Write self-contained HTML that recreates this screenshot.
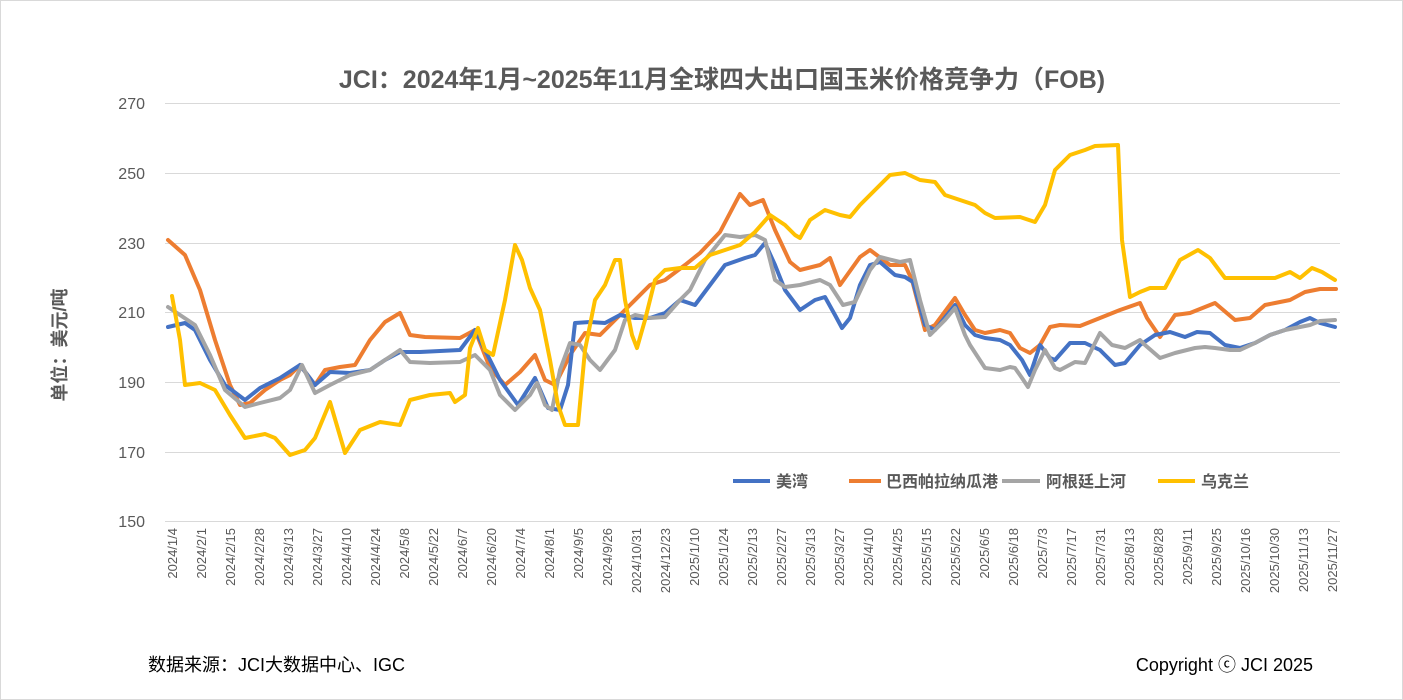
<!DOCTYPE html>
<html><head><meta charset="utf-8"><style>
body{margin:0;background:#fff}
svg{display:block}
text{font-family:"Liberation Sans","Noto Sans CJK SC",sans-serif}
</style></head><body>
<svg width="1403" height="700" viewBox="0 0 1403 700" xmlns="http://www.w3.org/2000/svg">
<rect x="0.5" y="0.5" width="1402" height="699" fill="#fff" stroke="#d9d9d9"/>
<text x="722" y="88" font-size="25" font-weight="bold" fill="#595959" text-anchor="middle">JCI：2024年1月~2025年11月全球四大出口国玉米价格竞争力（FOB)</text>
<g stroke="#d9d9d9" stroke-width="1">
<line x1="165" y1="103.5" x2="1340" y2="103.5"/>
<line x1="165" y1="173.5" x2="1340" y2="173.5"/>
<line x1="165" y1="243.5" x2="1340" y2="243.5"/>
<line x1="165" y1="312.5" x2="1340" y2="312.5"/>
<line x1="165" y1="382.5" x2="1340" y2="382.5"/>
<line x1="165" y1="452.5" x2="1340" y2="452.5"/>
<line x1="165" y1="521.5" x2="1340" y2="521.5"/>
</g>
<g font-size="16" fill="#595959" text-anchor="end">
<text x="145" y="109">270</text><text x="145" y="179">250</text><text x="145" y="249">230</text>
<text x="145" y="318">210</text><text x="145" y="388">190</text><text x="145" y="458">170</text><text x="145" y="527">150</text>
</g>
<text transform="translate(66,345) rotate(-90)" font-size="18" font-weight="bold" fill="#595959" text-anchor="middle">单位：美元/吨</text>
<g fill="none" stroke-width="4" stroke-linejoin="round" stroke-linecap="round">
<polyline stroke="#ed7d31" points="168,240 185,255 200,290 215,340 230,385 240,405 250,403 265,390 280,380 290,375 300,365 315,385 325,370 340,367 355,365 370,340 385,322 400,313 410,335 425,337 460,338 475,330 490,368 505,385 520,372 535,355 545,380 555,385 570,355 585,333 600,335 615,320 630,305 650,285 665,280 685,265 700,253 720,232 740,194 750,205 763,200 775,230 790,262 800,270 820,265 830,258 840,285 860,257 870,250 890,265 905,265 912,280 925,330 935,325 955,298 965,315 975,330 985,333 1000,330 1010,333 1020,348 1030,353 1040,345 1050,327 1060,325 1080,326 1100,318 1120,310 1140,303 1147,318 1160,337 1175,315 1190,313 1210,305 1215,303 1235,320 1250,318 1265,305 1275,303 1290,300 1305,292 1320,289 1336,289"/>
<polyline stroke="#4472c4" points="168,327 185,323 195,330 210,360 225,385 245,400 260,388 280,378 300,365 315,385 330,372 350,373 370,370 385,360 400,352 420,352 460,350 475,330 485,350 500,380 518,405 535,378 548,408 560,410 568,385 575,323 590,322 605,323 620,315 635,318 650,318 665,313 680,300 695,305 710,285 725,265 745,258 755,255 765,243 775,265 785,290 800,310 815,300 825,297 835,315 842,328 850,318 860,285 870,265 880,262 895,275 905,277 913,282 925,325 935,330 955,305 965,325 975,335 985,338 1000,340 1010,345 1022,360 1030,375 1040,345 1050,358 1055,360 1070,343 1085,343 1100,350 1115,365 1125,363 1140,345 1155,335 1170,332 1185,337 1197,332 1210,333 1225,345 1240,348 1255,343 1270,335 1285,330 1300,322 1310,318 1320,323 1335,327"/>
<polyline stroke="#a5a5a5" points="168,307 180,315 195,325 210,355 225,390 245,407 260,403 280,398 290,390 302,365 315,393 330,385 350,375 370,370 385,360 400,350 410,362 430,363 460,362 475,355 490,370 500,395 515,410 530,395 537,383 545,405 552,410 560,370 570,343 580,345 590,360 600,370 615,350 625,320 635,315 650,318 665,317 680,300 690,290 705,260 725,235 740,237 755,235 765,240 775,280 785,287 800,285 820,280 830,285 843,305 855,302 870,270 880,257 900,262 910,260 920,300 930,335 945,320 955,308 965,335 970,345 985,368 1000,370 1010,367 1015,368 1022,378 1028,387 1035,370 1045,350 1055,368 1060,370 1075,362 1085,363 1100,333 1112,345 1125,348 1140,340 1145,345 1160,358 1175,353 1195,348 1205,347 1215,348 1230,350 1240,350 1255,343 1270,335 1285,330 1300,327 1310,325 1320,321 1335,320"/>
<polyline stroke="#ffc000" points="172,296 180,340 185,385 200,383 215,390 230,415 245,438 265,434 275,438 290,455 305,450 315,438 330,402 345,453 360,430 380,422 400,425 410,400 430,395 450,393 455,402 465,395 470,348 478,328 485,350 493,355 505,300 515,245 522,260 530,288 540,310 550,360 558,405 565,425 578,425 585,350 595,300 605,285 615,260 620,260 625,300 632,335 637,348 645,320 655,280 665,270 680,268 695,268 710,255 725,250 740,245 755,232 770,215 785,225 795,235 800,238 810,220 825,210 840,215 850,217 860,205 875,190 890,175 905,173 920,180 935,182 945,195 960,200 975,205 985,213 995,218 1020,217 1035,222 1045,205 1055,170 1070,155 1085,150 1095,146 1118,145 1122,240 1130,297 1140,292 1150,288 1165,288 1180,260 1198,250 1210,258 1225,278 1240,278 1260,278 1275,278 1290,272 1300,278 1312,268 1322,272 1335,280"/>
</g>
<g stroke-width="4">
<line x1="733" y1="481" x2="770" y2="481" stroke="#4472c4"/>
<line x1="849" y1="481" x2="881" y2="481" stroke="#ed7d31"/>
<line x1="1002" y1="481" x2="1040" y2="481" stroke="#a5a5a5"/>
<line x1="1158" y1="481" x2="1195" y2="481" stroke="#ffc000"/>
</g>
<g font-size="16" font-weight="bold" fill="#595959">
<text x="776" y="487">美湾</text><text x="886" y="487">巴西帕拉纳瓜港</text>
<text x="1046" y="487">阿根廷上河</text><text x="1201" y="487">乌克兰</text>
</g>
<text x="148" y="671" font-size="18" fill="#000">数据来源：JCI大数据中心、IGC</text>
<text x="1313" y="671" font-size="18" fill="#000" text-anchor="end">Copyright ⓒ JCI 2025</text>
<g font-size="13" fill="#595959" text-anchor="end">
<text transform="translate(177,528) rotate(-90)">2024/1/4</text>
<text transform="translate(206,528) rotate(-90)">2024/2/1</text>
<text transform="translate(235,528) rotate(-90)">2024/2/15</text>
<text transform="translate(264,528) rotate(-90)">2024/2/28</text>
<text transform="translate(293,528) rotate(-90)">2024/3/13</text>
<text transform="translate(322,528) rotate(-90)">2024/3/27</text>
<text transform="translate(351,528) rotate(-90)">2024/4/10</text>
<text transform="translate(380,528) rotate(-90)">2024/4/24</text>
<text transform="translate(409,528) rotate(-90)">2024/5/8</text>
<text transform="translate(438,528) rotate(-90)">2024/5/22</text>
<text transform="translate(467,528) rotate(-90)">2024/6/7</text>
<text transform="translate(496,528) rotate(-90)">2024/6/20</text>
<text transform="translate(525,528) rotate(-90)">2024/7/4</text>
<text transform="translate(554,528) rotate(-90)">2024/8/1</text>
<text transform="translate(583,528) rotate(-90)">2024/9/5</text>
<text transform="translate(612,528) rotate(-90)">2024/9/26</text>
<text transform="translate(641,528) rotate(-90)">2024/10/31</text>
<text transform="translate(670,528) rotate(-90)">2024/12/23</text>
<text transform="translate(699,528) rotate(-90)">2025/1/10</text>
<text transform="translate(728,528) rotate(-90)">2025/1/24</text>
<text transform="translate(757,528) rotate(-90)">2025/2/13</text>
<text transform="translate(786,528) rotate(-90)">2025/2/27</text>
<text transform="translate(815,528) rotate(-90)">2025/3/13</text>
<text transform="translate(844,528) rotate(-90)">2025/3/27</text>
<text transform="translate(873,528) rotate(-90)">2025/4/10</text>
<text transform="translate(902,528) rotate(-90)">2025/4/25</text>
<text transform="translate(931,528) rotate(-90)">2025/5/15</text>
<text transform="translate(960,528) rotate(-90)">2025/5/22</text>
<text transform="translate(989,528) rotate(-90)">2025/6/5</text>
<text transform="translate(1018,528) rotate(-90)">2025/6/18</text>
<text transform="translate(1047,528) rotate(-90)">2025/7/3</text>
<text transform="translate(1076,528) rotate(-90)">2025/7/17</text>
<text transform="translate(1105,528) rotate(-90)">2025/7/31</text>
<text transform="translate(1134,528) rotate(-90)">2025/8/13</text>
<text transform="translate(1163,528) rotate(-90)">2025/8/28</text>
<text transform="translate(1192,528) rotate(-90)">2025/9/11</text>
<text transform="translate(1221,528) rotate(-90)">2025/9/25</text>
<text transform="translate(1250,528) rotate(-90)">2025/10/16</text>
<text transform="translate(1279,528) rotate(-90)">2025/10/30</text>
<text transform="translate(1308,528) rotate(-90)">2025/11/13</text>
<text transform="translate(1337,528) rotate(-90)">2025/11/27</text>
</g>
</svg>
</body></html>
